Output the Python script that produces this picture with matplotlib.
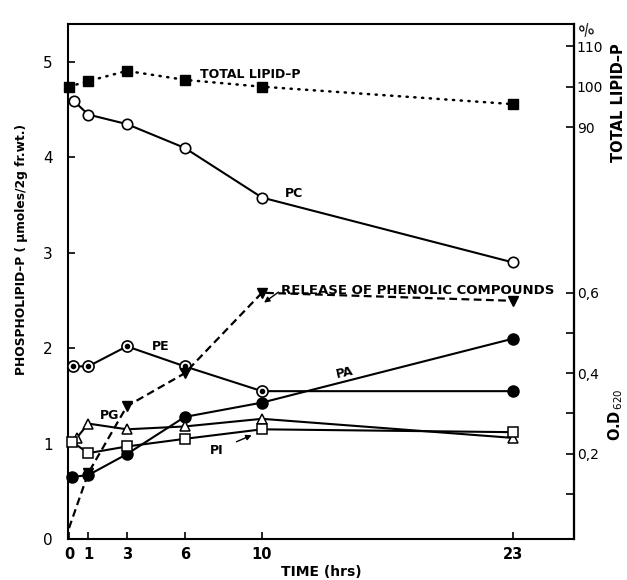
import matplotlib
matplotlib.use("Agg")
import matplotlib.pyplot as plt
from matplotlib.ticker import FixedLocator

plt.rcParams['font.family'] = ['DejaVu Sans']

# ---- data ----
hours = [0, 1, 3, 6, 10, 23]
xtick_labels = ["0", "1", "3", "6", "10", "23"]

t_total = [0, 1, 3, 6, 10, 23]
total_lipid_pct = [100, 101.4, 103.9, 101.7, 100, 95.7]

t_pc = [0.26, 1, 3, 6, 10, 23]
pc = [4.59, 4.45, 4.35, 4.10, 3.58, 2.90]

t_pe = [0.2, 1, 3, 6, 10, 23]
pe = [1.81, 1.81, 2.02, 1.81, 1.55, 1.55]

t_pa = [0.15, 1, 3, 6, 10, 23]
pa = [0.65, 0.67, 0.89, 1.28, 1.43, 2.10]

t_pg = [0.4, 1, 3, 6, 10, 23]
pg = [1.06, 1.21, 1.15, 1.18, 1.26, 1.06]

t_pi = [0.15, 1, 3, 6, 10, 23]
pi = [1.02, 0.90, 0.97, 1.05, 1.15, 1.12]

t_phen = [0, 1, 3, 6, 10, 23]
phenolic_od = [0.015, 0.152, 0.318, 0.40, 0.60, 0.58]

left_ticks = [0, 1, 2, 3, 4, 5]
od_ticks = [0.2, 0.4, 0.6]
od_tick_labels = ["0,2", "0,4", "0,6"]
od_minor = [0.1, 0.3, 0.5]
pct_ticks = [90, 100, 110]

# ---- figure ----
fig = plt.figure(figsize=(6.27, 5.80), dpi=100)
ax = fig.add_axes([0.1085, 0.0707, 0.807, 0.888])
ax2 = ax.twinx()
ax3 = ax.twinx()

ax.set_xlim(-0.05, 26.17)
ax.set_ylim(0, 5.40)
ax2.set_ylim(-0.012, 1.268)
ax3.set_ylim(-11.7, 115.5)

lw = 1.5
k = 'black'

# lipid lines
ax.plot(t_pc, pc, color=k, lw=lw, marker='o', ms=7.5, mfc='white', mec=k, mew=1.2, clip_on=False, zorder=3)
ax.plot(t_pe, pe, color=k, lw=lw, marker='o', ms=8, mfc='white', mec=k, mew=1.2, markevery=[0, 1, 2, 3, 4], clip_on=False, zorder=3)
ax.plot(t_pe[:5], pe[:5], ls='none', marker='o', ms=3, color=k, clip_on=False, zorder=4)
ax.plot(t_pe[5:], pe[5:], ls='none', marker='o', ms=8, color=k, clip_on=False, zorder=4)
ax.plot(t_pa, pa, color=k, lw=lw, marker='o', ms=8, mfc=k, mec=k, clip_on=False, zorder=3)
ax.plot(t_pg, pg, color=k, lw=lw, marker='^', ms=7, mfc='white', mec=k, mew=1.1, clip_on=False, zorder=3)
ax.plot(t_pi, pi, color=k, lw=lw, marker='s', ms=6.5, mfc='white', mec=k, mew=1.1, clip_on=False, zorder=3)

# total lipid (percent axis)
ax3.plot(t_total, total_lipid_pct, color=k, lw=1.8, ls=(0, (0.5, 2.6)), dash_capstyle='round',
         marker='s', ms=6.5, mfc=k, mec=k, clip_on=False, zorder=3)

# phenolic release (OD axis)
ax2.plot(t_phen, phenolic_od, color=k, lw=1.6, ls=(0, (3.5, 2)), marker='v', ms=7,
         mfc=k, mec=k, markevery=[1, 2, 3, 4, 5], clip_on=False, zorder=3)

# ---- axes styling ----
for a in (ax, ax2, ax3):
    for s in a.spines.values():
        s.set_linewidth(1.5)
for a in (ax2, ax3):
    a.spines['left'].set_visible(False)
    a.spines['top'].set_visible(False)
    a.spines['bottom'].set_visible(False)

ax.set_xticks(hours)
ax.set_xticklabels(xtick_labels, fontsize=10.5, fontweight='bold')
ax.set_yticks(left_ticks)
ax.set_yticklabels([str(v) for v in left_ticks], fontsize=11)
ax.tick_params(axis='both', direction='in', length=5, width=1.2)
ax.tick_params(axis='x', pad=6)
ax.tick_params(axis='y', pad=11)

ax2.set_yticks(od_ticks)
ax2.set_yticklabels(od_tick_labels, fontsize=10)
ax2.yaxis.set_minor_locator(FixedLocator(od_minor))
ax2.tick_params(axis='y', which='both', direction='in', length=6, width=1.2, pad=2)

ax3.set_yticks(pct_ticks)
ax3.set_yticklabels([str(v) for v in pct_ticks], fontsize=10)
ax3.tick_params(axis='y', direction='in', length=6, width=1.2, pad=2)

# ---- labels ----
ax.set_xlabel("TIME (hrs)", fontsize=10, fontweight='bold', labelpad=2)
fig.text(0.035, 0.57, "PHOSPHOLIPID\u2013P ( \u03bcmoles/2g fr.wt.)", rotation=90,
         ha='center', va='center', fontsize=8.8, fontweight='bold')
fig.text(0.987, 0.823, "TOTAL LIPID\u2013P", rotation=90, ha='center', va='center',
         fontsize=10.5, fontweight='bold')
fig.text(0.935, 0.946, "%", ha='center', va='center', fontsize=11, rotation=20)
fig.text(0.982, 0.285, r"O.D$_{\,620}$", rotation=90, ha='center', va='center',
         fontsize=10.5, fontweight='bold')

# ---- annotations ----
fs = 9
ax.text(6.79, 4.87, "TOTAL LIPID\u2013P", fontsize=fs, fontweight='bold', ha='left', va='center')
ax.text(11.2, 3.62, "PC", fontsize=fs, fontweight='bold', ha='left', va='center')
ax.text(4.3, 2.02, "PE", fontsize=fs, fontweight='bold', ha='left', va='center')
ax.text(1.6, 1.29, "PG", fontsize=fs, fontweight='bold', ha='left', va='center')
ax.text(14.3, 1.74, "PA", fontsize=fs, fontweight='bold', ha='center', va='center', rotation=12)
ax.annotate("PI", xy=(9.6, 1.10), xytext=(7.3, 0.93), fontsize=fs, fontweight='bold',
            ha='left', va='center',
            arrowprops=dict(arrowstyle='-|>', color=k, lw=1.0, shrinkA=8, shrinkB=2,
                            mutation_scale=8))
ax.annotate("RELEASE OF PHENOLIC COMPOUNDS", xy=(10.05, 2.47), xytext=(11.0, 2.61),
            fontsize=9.5, fontweight='bold', ha='left', va='center',
            arrowprops=dict(arrowstyle='-|>', color=k, lw=1.0, shrinkA=0, shrinkB=1,
                            mutation_scale=8, relpos=(0, 0.5)))

fig.savefig("out.png", dpi=100)
